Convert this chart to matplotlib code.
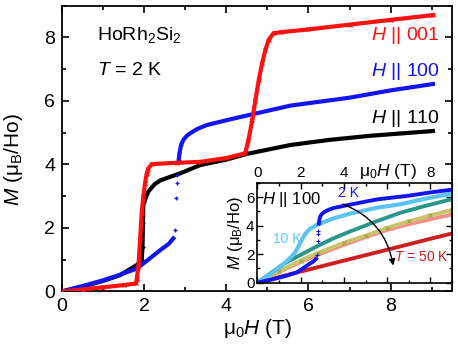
import numpy as np
import matplotlib.pyplot as plt
from matplotlib.ticker import MultipleLocator, FixedLocator, FixedFormatter

plt.rcParams['font.family'] = ['Liberation Sans', 'DejaVu Sans']
plt.rcParams['mathtext.fontset'] = 'custom'
plt.rcParams['mathtext.rm'] = 'Liberation Sans'
plt.rcParams['mathtext.it'] = 'Liberation Sans:italic'

# ---- main panel data (T = 2 K) ----
h001_H = [0, 0.5, 1.0, 1.5, 1.8, 1.82, 1.86, 1.9, 1.94, 1.98, 2.02, 2.06, 2.1, 2.19,
          2.8, 3.37, 4.0, 4.46, 4.54, 4.63, 4.71, 4.79, 4.87, 4.95, 5.03, 5.15, 5.32,
          6.0, 7.0, 8.0, 9.03]
h001_M = [0, 0.06, 0.13, 0.2, 0.25, 0.4, 0.77, 1.62, 2.46, 3.0, 3.4, 3.7, 3.87, 4.01,
          4.05, 4.08, 4.2, 4.35, 4.77, 5.39, 6.03, 6.66, 7.18, 7.6, 7.92, 8.13, 8.16,
          8.25, 8.4, 8.55, 8.7]

h100_low_H = [0, 0.5, 1.0, 1.4, 1.82, 2.1, 2.39, 2.6, 2.71]
h100_low_M = [0, 0.17, 0.35, 0.52, 0.72, 1.0, 1.3, 1.5, 1.67]
h100_jump_H = [2.76, 2.78, 2.79, 2.8]
h100_jump_M = [1.93, 2.93, 3.4, 3.66]
h100_high_H = [2.84, 2.86, 2.9, 2.96, 3.04, 3.12, 3.3, 3.53, 4.1, 5.56, 7.0, 8.0, 9.03]
h100_high_M = [4.14, 4.35, 4.62, 4.78, 4.9, 4.98, 5.12, 5.24, 5.42, 5.85, 6.1, 6.33, 6.53]

h110_H = [0, 0.5, 1.0, 1.41, 1.82, 1.94, 1.96, 1.97, 1.98, 2.0, 2.1, 2.25, 2.4, 2.88,
          3.37, 4.0, 4.5, 5.56, 6.5, 7.5, 9.03]
h110_M = [0, 0.15, 0.33, 0.51, 0.83, 0.99, 1.4, 2.14, 2.77, 2.82, 3.14, 3.37, 3.5, 3.72,
          3.98, 4.15, 4.33, 4.61, 4.77, 4.9, 5.05]

# ---- inset data (H || 100) ----
t10_H = [0, 0.6, 1.2, 1.6, 1.8, 2.0, 2.2, 2.4, 2.75, 3.5, 4.3, 5.5, 6.6, 7.8, 9.0]
t10_M = [0, 0.6, 1.3, 1.85, 2.25, 2.85, 3.4, 3.75, 4.05, 4.5, 4.85, 5.25, 5.5, 5.9, 6.25]
t20_H = [0, 0.6, 1.2, 1.5, 2.0, 2.75, 3.5, 4.3, 5.5, 6.6, 7.8, 9.0]
t20_M = [0, 0.65, 1.3, 1.55, 1.95, 2.55, 3.1, 3.6, 4.3, 4.9, 5.4, 5.86]
t30_H = [0, 1.0, 2.0, 2.78, 4.0, 5.0, 6.0, 7.0, 8.0, 9.0]
t30_M = [0, 0.8, 1.55, 2.07, 2.8, 3.3, 3.85, 4.3, 4.72, 5.1]
t35_H = [0, 1.0, 2.0, 2.78, 4.0, 5.0, 6.0, 7.0, 8.0, 9.0]
t35_M = [0, 0.75, 1.45, 1.95, 2.65, 3.2, 3.7, 4.1, 4.45, 4.78]
t50_H = [0, 2.0, 4.0, 6.0, 8.0, 9.0]
t50_M = [0, 0.78, 1.55, 2.31, 3.08, 3.45]

RED = '#ff1010'
BLUE = '#1414f0'

fig = plt.figure(figsize=(4.58, 3.49), dpi=100)
ax = fig.add_axes([0.1354, 0.165, 0.852, 0.819])

ax.plot(h110_H, h110_M, '-', color='black', lw=3, zorder=2)
ax.plot(h110_H[5:10], h110_M[5:10], '+', color='black', ms=3.5, mew=1, zorder=2)
ax.plot(h100_low_H, h100_low_M, '-', color=BLUE, lw=3, zorder=3)
ax.plot(h100_high_H, h100_high_M, '-', color=BLUE, lw=3, zorder=3)
ax.plot(h100_jump_H + h100_high_H[:3], h100_jump_M + h100_high_M[:3],
        '+', color=BLUE, ms=3.5, mew=1, ls='none', zorder=3)
ax.plot(h001_H, h001_M, '-', color=RED, lw=3, zorder=4)
ax.plot(h001_H, h001_M, 'x', color=RED, ms=3, mew=1, zorder=4)

ax.set_xlim(0, 9.5)
ax.set_ylim(0, 9)
ax.xaxis.set_major_locator(MultipleLocator(2))
ax.xaxis.set_minor_locator(MultipleLocator(1))
ax.yaxis.set_major_locator(MultipleLocator(2))
ax.yaxis.set_minor_locator(MultipleLocator(1))
ax.tick_params(which='both', direction='in', top=True, right=True, width=1.2,
               labelsize=14, pad=5)
ax.tick_params(which='major', length=5)
ax.tick_params(which='minor', length=3)
for s in ax.spines.values():
    s.set_linewidth(1.3)
ax.set_xlabel('μ$_0$$\\it{H}$ (T)', fontsize=15, labelpad=1)
ax.set_ylabel('$\\it{M}$ (μ$_\\mathrm{B}$/Ho)', fontsize=15, labelpad=4)
ax.yaxis.set_label_coords(-0.095, 0.46)

ax.text(0.85, 8.07, 'HoRh$_2$Si$_2$', fontsize=14, va='center')
ax.text(0.85, 6.97, '$\\it{T}$ = 2 K', fontsize=14, va='center')
ax.text(9.2, 8.07, '$\\it{H}$ || 001', color=RED, fontsize=14, va='center', ha='right')
ax.text(9.2, 6.94, '$\\it{H}$ || 100', color=BLUE, fontsize=14, va='center', ha='right')
ax.text(9.2, 5.45, '$\\it{H}$ || 110', color='black', fontsize=14, va='center', ha='right')

# ---- inset ----
ins = fig.add_axes([0.562, 0.19, 0.425, 0.286])
ins.plot(t50_H, t50_M, '-', color='#cc1f1f', lw=2.8)
ins.plot(t35_H, t35_M, '-', color='#f4908a', lw=2.8)
ins.plot(t30_H, t30_M, '-', color='#c9c46a', lw=2.8)
ins.plot(t30_H, t30_M, 'x', color='#a8a040', ms=2.5, mew=0.8)
ins.plot(t20_H, t20_M, '-', color='#2a968a', lw=2.8)
ins.plot(t10_H, t10_M, '-', color='#5cc4f5', lw=3)
ins.plot(h100_low_H, h100_low_M, '-', color=BLUE, lw=2.8)
ins.plot(h100_high_H, h100_high_M, '-', color=BLUE, lw=2.8)
ins.plot(h100_jump_H, h100_jump_M, '+', color=BLUE, ms=3, mew=0.8, ls='none')

ins.set_xlim(0, 9)
ins.set_ylim(0, 7)
ins.xaxis.set_major_locator(FixedLocator([0, 2, 4, 6, 8]))
ins.xaxis.set_major_formatter(FixedFormatter(['0', '2', '4', '', '8']))
ins.xaxis.set_minor_locator(MultipleLocator(1))
ins.yaxis.set_major_locator(MultipleLocator(2))
ins.yaxis.set_minor_locator(MultipleLocator(1))
ins.tick_params(which='both', direction='in', top=True, right=True, bottom=True,
                labeltop=True, labelbottom=False, width=1.0, labelsize=11, pad=2)
ins.tick_params(which='major', length=4)
ins.tick_params(which='minor', length=2.5)
for s in ins.spines.values():
    s.set_linewidth(1.2)
ins.text(6.05, 1.02, 'μ$_0$$\\it{H}$ (T)', transform=ins.get_xaxis_transform(),
         fontsize=12.5, ha='center', va='bottom')
ins.set_ylabel('$\\it{M}$ (μ$_\\mathrm{B}$/Ho)', fontsize=12, labelpad=1)

ins.text(0.2, 5.81, '$\\it{H}$ || 100', fontsize=12, va='center')
ins.text(3.74, 6.3, '2 K', color=BLUE, fontsize=10, va='center')
ins.text(0.7, 3.05, '10 K', color='#5cc4f5', fontsize=10, va='center')
ins.text(6.3, 1.83, '$\\it{T}$ = 50 K', color='#cc1f1f', fontsize=10, va='center')
ins.annotate('', xy=(6.3, 1.01), xytext=(3.83, 5.58),
             arrowprops=dict(arrowstyle='-|>', color='black', lw=1.0,
                             mutation_scale=9, connectionstyle='arc3,rad=-0.3'))

fig.savefig('out.png', dpi=100)
